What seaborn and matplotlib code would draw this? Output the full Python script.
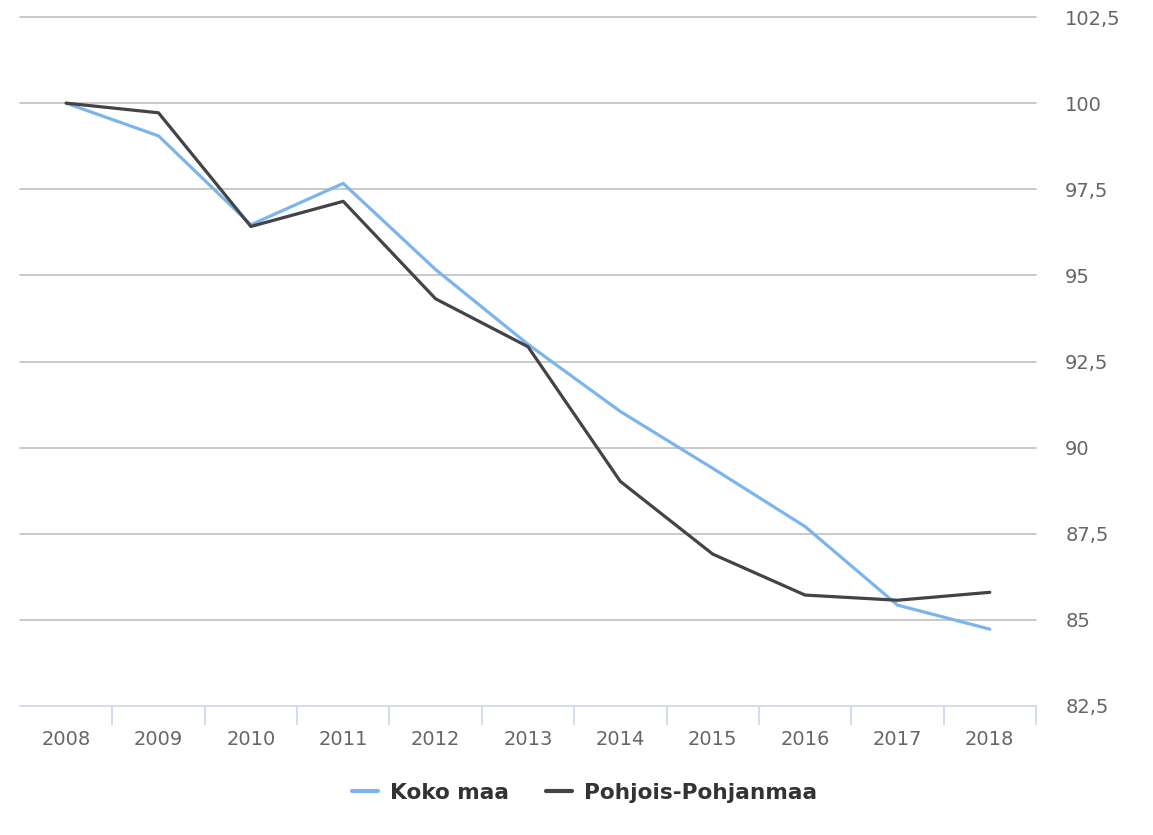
import matplotlib
matplotlib.use("Agg")
import matplotlib.pyplot as plt
import pandas as pd
import seaborn as sns
from matplotlib.ticker import FixedLocator, FuncFormatter

# Data (index, 2008 = 100)
years = [2008, 2009, 2010, 2011, 2012, 2013, 2014, 2015, 2016, 2017, 2018]
koko_maa = [100.0, 99.05, 96.47, 97.67, 95.17, 93.0, 91.05, 89.4, 87.71, 85.43, 84.73]
pohjois_pohjanmaa = [100.0, 99.72, 96.42, 97.15, 94.32, 92.93, 89.02, 86.91, 85.72, 85.57, 85.8]
series_names = ["Koko maa", "Pohjois-Pohjanmaa"]
y_ticks = [82.5, 85, 87.5, 90, 92.5, 95, 97.5, 100, 102.5]

df = pd.DataFrame({
    "Vuosi": years * 2,
    "Indeksi": koko_maa + pohjois_pohjanmaa,
    "Alue": [series_names[0]] * len(years) + [series_names[1]] * len(years),
})

sns.set_style("white")
plt.rcParams["font.family"] = ["DejaVu Sans"]

fig = plt.figure(figsize=(11.53, 8.35), dpi=100)
ax = fig.add_axes([0.0173, 0.1545, 0.8812, 0.8251])

sns.lineplot(data=df, x="Vuosi", y="Indeksi", hue="Alue",
             palette=["#7cb5ec", "#434348"], linewidth=2.3, ax=ax, legend=False)

ax.set_xlim(years[0] - 0.5, years[-1] + 0.5)
ax.set_ylim(y_ticks[0], y_ticks[-1])

# grid lines
for v in y_ticks[1:]:
    ax.axhline(v, color="#c0c0c0", lw=1.2, zorder=0, clip_on=False)

for s in ["top", "left", "right"]:
    ax.spines[s].set_visible(False)
ax.spines["bottom"].set_color("#ccd6eb")
ax.spines["bottom"].set_linewidth(1.2)

# x axis: labels centred, ticks between categories
ax.xaxis.set_major_locator(FixedLocator(years))
ax.set_xticklabels([str(y) for y in years])
ax.xaxis.set_minor_locator(FixedLocator([y + 0.5 for y in years]))
ax.tick_params(axis="x", which="major", length=0, pad=17, labelsize=14, labelcolor="#666666")
ax.tick_params(axis="x", which="minor", length=14, width=1.2, color="#ccd6eb", bottom=True)

# y axis on the right, comma decimals
ax.yaxis.tick_right()
ax.yaxis.set_major_locator(FixedLocator(y_ticks))
ax.yaxis.set_major_formatter(FuncFormatter(lambda v, p: f"{v:g}".replace(".", ",")))
ax.tick_params(axis="y", length=0, pad=21, labelsize=14, labelcolor="#666666")

ax.set_xlabel("")
ax.set_ylabel("")

handles = [plt.Line2D([], [], color=c, lw=3) for c in ["#7cb5ec", "#434348"]]
leg = fig.legend(handles, series_names, loc="center", bbox_to_anchor=(0.507, 1 - 793 / 835),
                 ncol=2, frameon=False, handlelength=1.2, handletextpad=0.55, columnspacing=1.7,
                 prop={"weight": "bold", "size": 15.6})
for t in leg.get_texts():
    t.set_color("#333333")

fig.savefig("out.png", dpi=100)
